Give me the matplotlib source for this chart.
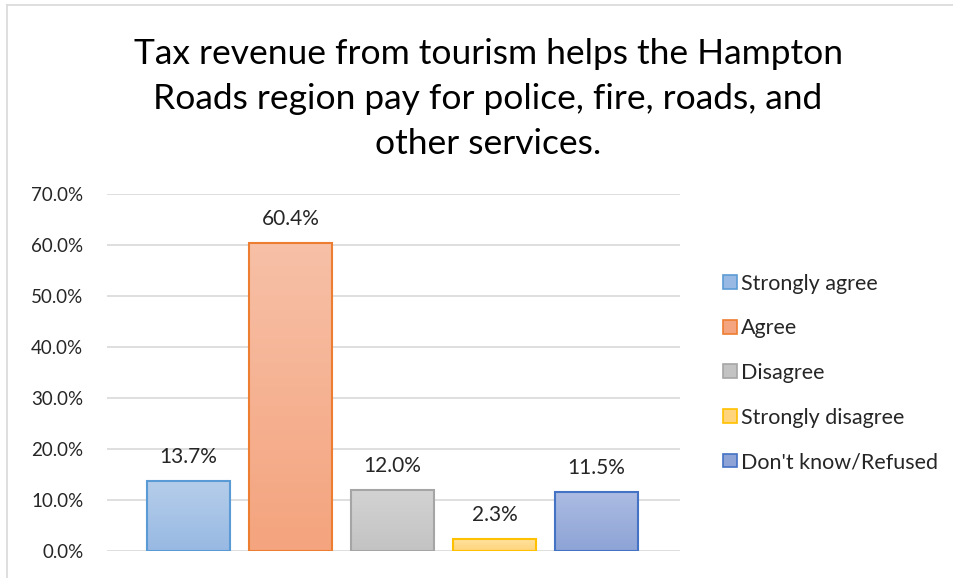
import numpy as np
import matplotlib
matplotlib.use('Agg')
import matplotlib.pyplot as plt
from matplotlib.colors import LinearSegmentedColormap
from matplotlib.lines import Line2D
from matplotlib.patches import Patch

labels = ['Strongly agree', 'Agree', 'Disagree', 'Strongly disagree', "Don't know/Refused"]
values = [13.7, 60.4, 12.0, 2.3, 11.5]
yticks = [0, 10, 20, 30, 40, 50, 60, 70]

# (top colour, bottom colour, edge colour)
COLORS = [
    ('#b5cdea', '#98b9e3', '#5b9bd5'),
    ('#f7c0a7', '#f4a47e', '#ed7d31'),
    ('#d3d3d3', '#c3c3c3', '#a5a5a5'),
    ('#ffe19d', '#ffd47c', '#ffc000'),
    ('#abbbe2', '#8ea4d6', '#4472c4'),
]
TEXT = '#262626'
GRID = '#d9d9d9'
FONT = ['Lato', 'DejaVu Sans']

plt.rcParams['font.family'] = FONT

fig = plt.figure(figsize=(9.54, 5.78), dpi=100, facecolor='white')
ax = fig.add_axes([107 / 954, 27 / 578, 573 / 954, 357 / 578])

x = np.arange(len(values))
width = 0.814
bars = ax.bar(x, values, width=width, color='none', zorder=3)

for b, (top, bot, edge) in zip(bars, COLORS):
    x0, w, h = b.get_x(), b.get_width(), b.get_height()
    cmap = LinearSegmentedColormap.from_list('g', [bot, top])
    grad = np.linspace(0, 1, 64).reshape(-1, 1)
    ax.imshow(grad, cmap=cmap, origin='lower', aspect='auto',
              extent=(x0, x0 + w, 0, h), zorder=2)
    ax.add_patch(plt.Rectangle((x0, 0), w, h, fill=False,
                               edgecolor=edge, linewidth=1.5, zorder=4))
    ax.annotate(f'{h:.1f}%', (x0 + w / 2, h), xytext=(0, 10),
                textcoords='offset points', ha='center', va='bottom',
                fontsize=15, color=TEXT)

ax.set_xlim(-0.8, 4.82)
ax.set_ylim(0, 70)
ax.set_yticks(yticks)
ax.set_yticklabels([f'{t:.1f}%' for t in yticks], fontsize=13.5, color=TEXT)
ax.set_xticks([])
ax.tick_params(axis='y', length=0, pad=17)
ax.grid(axis='y', color=GRID, linewidth=1.2, zorder=0)
ax.set_axisbelow(True)
for sp in ax.spines.values():
    sp.set_visible(False)

handles = [Patch(facecolor=c[1], edgecolor=c[2], linewidth=1.2) for c in COLORS]
fig.legend(handles, labels, loc='center left', bbox_to_anchor=(704 / 954, 1 - 373 / 578),
           frameon=False, fontsize=15.5, handlelength=0.62, handleheight=0.62,
           handletextpad=0.18, labelspacing=1.14, labelcolor=TEXT)

fig.text(488 / 954, 1 - 99 / 578,
         'Tax revenue from tourism helps the Hampton\nRoads region pay for police, fire, roads, and\nother services.',
         ha='center', va='center', fontsize=25.5, color='black', linespacing=1.5)

# outer chart border (top and left edges visible)
fig.add_artist(Line2D([7 / 954, 1], [1 - 5 / 578, 1 - 5 / 578], color=GRID, linewidth=1.2))
fig.add_artist(Line2D([7 / 954, 7 / 954], [0, 1 - 5 / 578], color=GRID, linewidth=1.2))

fig.savefig('out.png', dpi=100, facecolor='white')
